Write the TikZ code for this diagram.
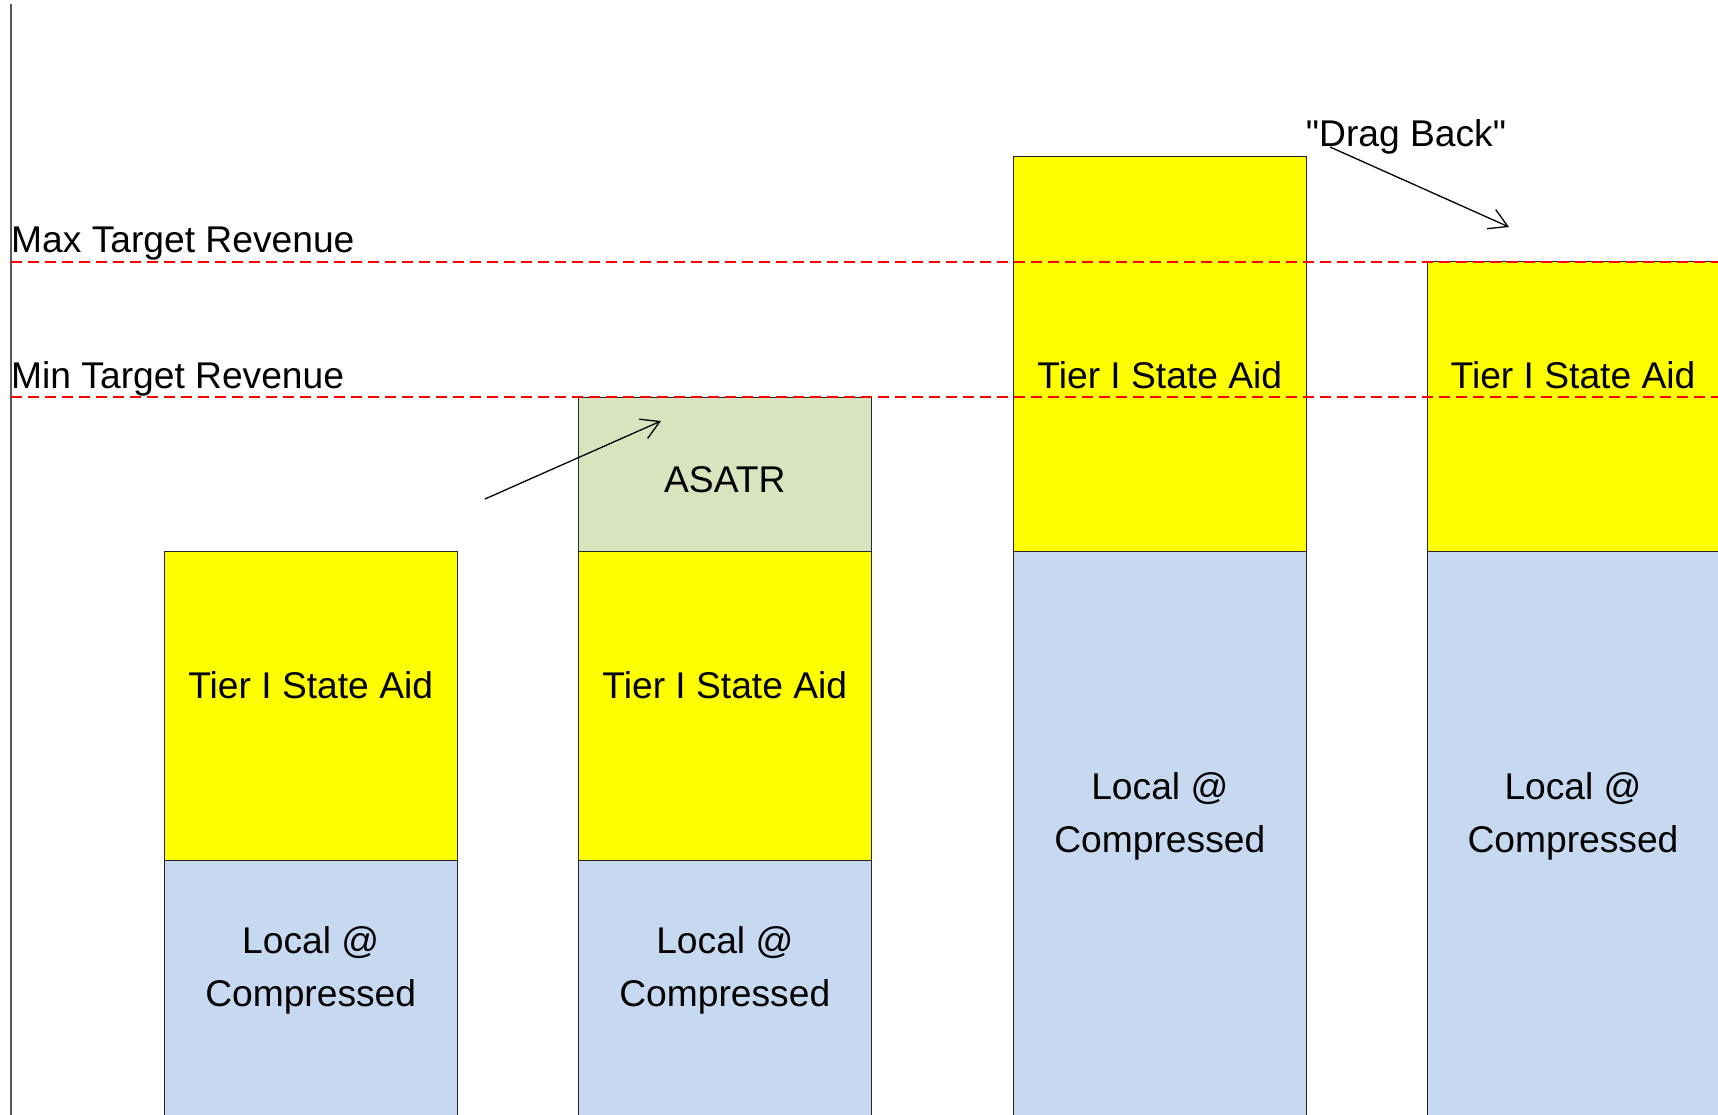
\documentclass[tikz,border=0pt]{standalone}
\usepackage{fontspec}
\setmainfont{Liberation Sans}[Ligatures=TeXOff]
\usetikzlibrary{arrows.meta}
\definecolor{aidyellow}{HTML}{FFFF00}
\definecolor{localblue}{HTML}{C6D9F1}
\definecolor{asatrgreen}{HTML}{D7E4BD}
\definecolor{axisgray}{HTML}{595959}
\begin{document}
\begin{tikzpicture}[x=1pt,y=-1pt,
  seg/.style={draw=black!85, line width=1pt, inner sep=0pt, outer sep=0pt,
              minimum width=292.6pt, anchor=north west},
  lbl/.style={font=\fontsize{37.2}{52.6}\selectfont, inner sep=0pt, align=center, anchor=base},
  target/.style={red, line width=2.2pt, dash pattern=on 11pt off 6pt},
  note/.style={-{Straight Barb[length=18pt,width=21pt]}, line width=1.3pt}]
\useasboundingbox (0,0) rectangle (1718,1115);
\clip (0,0) rectangle (1718,1115);

% vertical axis
\coordinate (axtop) at (11,4);
\coordinate (axbot) at (11,1115);
\draw[axisgray, line width=1.5pt] (axtop) -- (axbot);

% bar 1: local + tier I
\node[seg, fill=localblue, minimum height=270pt] (b1local) at (164.4,860) {};
\node[seg, fill=aidyellow, minimum height=309pt] (b1aid) at (164.4,551) {};

% bar 2: local + tier I + ASATR
\node[seg, fill=localblue, minimum height=270pt] (b2local) at (578.5,860) {};
\node[seg, fill=aidyellow, minimum height=309pt] (b2aid) at (578.5,551) {};
\node[seg, fill=asatrgreen, minimum height=154pt] (b2asatr) at (578.5,397) {};

% bar 3: local + tier I above the maximum
\node[seg, fill=localblue, minimum height=580pt] (b3local) at (1013.5,551) {};
\node[seg, fill=aidyellow, minimum height=394.3pt] (b3aid) at (1013.5,156.7) {};

% bar 4: tier I pulled back to the maximum
\node[seg, fill=localblue, minimum height=580pt] (b4local) at (1427.7,551) {};
\node[seg, fill=aidyellow, minimum height=289pt] (b4aid) at (1427.7,262) {};

% target revenue lines
\coordinate (maxL) at (11,262);
\coordinate (maxR) at (1718,262);
\coordinate (minL) at (11,397);
\coordinate (minR) at (1718,397);
\draw[target] (maxL) -- (maxR);
\draw[target] (minL) -- (minR);

\node[lbl, anchor=base west] (maxlbl) at (11,253) {Max Target Revenue};
\node[lbl, anchor=base west] (minlbl) at (11,388) {Min Target Revenue};

% segment labels (two-line labels are placed by their last baseline)
\node[lbl] (t1aid) at (310.7,698) {Tier I State Aid};
\node[lbl] (t1local) at (310.7,1006) {Local @\\Compressed};
\node[lbl] (t2aid) at (724.8,698) {Tier I State Aid};
\node[lbl] (t2local) at (724.8,1006) {Local @\\Compressed};
\node[lbl] (t2asatr) at (724.8,492) {ASATR};
\node[lbl] (t3aid) at (1159.8,388) {Tier I State Aid};
\node[lbl] (t3local) at (1159.8,852) {Local @\\Compressed};
\node[lbl] (t4aid) at (1573,388) {Tier I State Aid};
\node[lbl] (t4local) at (1573,852) {Local @\\Compressed};

\node[lbl] (drag) at (1406,147) {"Drag Back"};

% annotation arrows
\coordinate (asatrFrom) at (485,499);
\coordinate (asatrTo) at (661,421);
\draw[note] (asatrFrom) -- (asatrTo);
\coordinate (dragFrom) at (1330,147);
\coordinate (dragTo) at (1509,227);
\draw[note] (dragFrom) -- (dragTo);
\end{tikzpicture}
\end{document}
